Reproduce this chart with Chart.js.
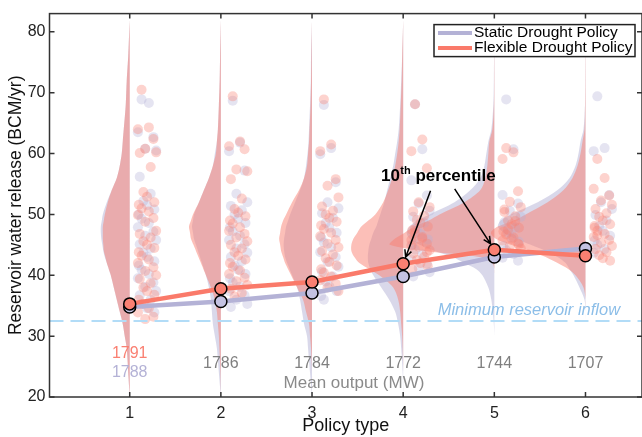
<!DOCTYPE html>
<html>
<head>
<meta charset="utf-8">
<script src="https://cdn.jsdelivr.net/npm/chart.js@4.4.1/dist/chart.umd.min.js"></script>
<style>
  html, body { margin: 0; padding: 0; background: #fff; }
</style>
</head>
<body>
<canvas id="releaseChart" width="642" height="437"></canvas>
<script>
// policy types on the x axis
const policies = [1, 2, 3, 4, 5, 6];
const yTicks = [20, 30, 40, 50, 60, 70, 80];

// 10th percentile of release per policy
const staticP10 = [34.8, 35.7, 37.1, 39.8, 43.0, 44.4];
const flexibleP10 = [35.3, 37.8, 38.9, 41.9, 44.2, 43.2];

// mean hydropower output (MW)
const meanOutputFlexible = [1791, 1786, 1784, 1772, 1744, 1707];
const meanOutputStatic = [1788, 1786, 1784, 1772, 1744, 1707];

const minimumInflow = 32.5;

// release levels at which the densities are given
const densityLevels = [20, 24, 28, 30, 32, 34, 36, 38, 40, 41, 42, 43, 44, 45, 46, 47, 48, 49, 50, 52, 54, 56, 58, 60, 62, 64, 68, 72, 76, 80, 82];

// kernel densities (relative) for each policy
const staticDensity = [
  [0, 1.5, 3, 5, 7, 10, 13, 16, 19, 21, 23, 25, 26.5, 27.5, 28.5, 29, 29, 28, 27, 23, 18, 13, 10, 8, 7, 6, 4, 3, 1.5, 0.5, 0],
  [0, 2, 4, 6, 8, 9, 10, 12, 15, 17, 19, 21, 23, 25, 27, 28, 29, 28, 27, 22, 17, 12, 8, 6, 4, 3, 2, 1.2, 0.8, 0.3, 0],
  [0, 2, 4, 5, 8, 10, 12, 15, 20, 22.5, 25, 27, 28, 28.5, 28, 27, 26, 24, 22, 17, 12, 8, 6, 4.5, 3.5, 3, 2, 1.2, 1, 0.3, 0],
  [0, 0.5, 2, 3, 5, 8, 14, 22, 30, 33, 35, 35.5, 35, 34, 32, 30, 27, 25, 23, 19, 16, 13, 10, 8, 6, 4.5, 3, 2, 1, 0.3, 0],
  [0, 0, 0, 0, 0.5, 1.5, 3, 6, 12, 18, 30, 42, 60, 75, 85, 88, 85, 78, 65, 40, 24, 14, 10, 8, 6, 3, 1, 0.5, 0.3, 0.1, 0],
  [0, 0, 0, 0, 0, 0, 1, 6, 12, 16, 20, 28, 40, 55, 70, 82, 88, 85, 75, 48, 28, 16, 10, 7, 5, 2, 0.5, 0.3, 0.2, 0.1, 0]
];
const flexibleDensity = [
  [0, 1.5, 3, 5, 7, 10, 13, 16, 19, 21, 23, 24.5, 26, 26.5, 27, 27, 27, 26, 25, 22, 18, 13, 10, 8, 7, 6, 4, 3, 1.5, 0.5, 0],
  [0, 0.5, 1.5, 2, 3, 4, 6, 10, 15, 17.5, 20, 22.5, 25, 27.5, 30, 31, 32, 30, 28, 22, 17, 12, 8, 5, 4, 3, 2, 1.2, 0.8, 0.3, 0],
  [0, 0, 1, 2, 3, 6, 9, 15, 21, 24, 27, 29, 31, 32, 33, 32, 31, 29, 26, 20, 13, 8, 5, 4, 3, 2.5, 1.5, 1, 0.6, 0.2, 0],
  [0, 0, 0.5, 1, 2, 3, 5, 10, 24, 34, 44, 49, 52, 52, 50, 46, 42, 35, 28, 20, 15, 11, 8, 6, 4.5, 3.5, 2.5, 1.5, 1, 0.3, 0],
  [0, 0, 0, 0, 0, 0, 0, 0, 0, 0, 2, 15, 70, 105, 100, 90, 80, 66, 55, 30, 14, 9, 7, 6, 5, 2, 0.5, 0.3, 0.2, 0.1, 0],
  [0, 0, 0, 0, 0, 0, 0, 2, 10, 17, 28, 40, 55, 75, 90, 95, 88, 72, 60, 38, 22, 13, 8, 5, 3, 1, 0.5, 0.3, 0.2, 0.1, 0]
];

// individual simulation runs (BCM/yr)
const staticRuns = [
  [68.9, 68.3, 63.5, 62.7, 60.8, 60.5, 56.2, 53.4, 52.2, 51.5, 50.8, 50.0, 49.3, 48.6, 47.9, 47.2, 46.5, 45.8, 45.1, 44.4, 43.7, 43.0, 42.3, 41.6, 40.9, 40.2, 39.5, 38.8, 38.1, 37.4, 36.7, 36.0, 35.3, 34.6, 33.9],
  [68.7, 61.8, 60.4, 57.2, 53.4, 52.0, 51.4, 50.7, 50.0, 49.3, 48.6, 47.9, 47.2, 46.5, 45.8, 45.1, 44.4, 43.7, 43.0, 42.3, 41.6, 40.9, 40.2, 39.5, 38.8, 38.1, 37.4, 36.7, 36.0, 35.3, 34.8],
  [68.0, 60.9, 59.9, 55.3, 52.0, 51.0, 50.2, 49.4, 48.6, 47.8, 47.0, 46.2, 45.4, 44.6, 43.8, 43.0, 42.2, 41.4, 40.6, 39.8, 39.0, 38.2, 37.4, 36.6, 36.0],
  [68.1, 60.7, 55.6, 53.1, 51.8, 50.6, 49.6, 48.6, 47.7, 46.8, 45.9, 45.0, 44.2, 43.4, 42.6, 41.9, 41.2, 40.5, 39.8],
  [68.9, 60.7, 53.2, 51.8, 50.6, 49.6, 48.7, 47.8, 47.0, 46.2, 45.5, 44.8, 44.1, 43.5, 42.9, 42.4],
  [69.4, 60.9, 60.4, 53.2, 52.0, 50.9, 49.9, 49.0, 48.1, 47.3, 46.5, 45.7, 45.0, 44.3, 43.7]
];
const flexibleRuns = [
  [70.5, 64.3, 64.0, 62.4, 60.8, 60.2, 60.1, 57.8, 53.7, 52.9, 52.0, 51.6, 51.0, 50.5, 49.9, 49.4, 48.8, 47.3, 46.8, 46.2, 45.6, 45.0, 44.5, 43.8, 43.2, 42.6, 42.0, 41.3, 40.7, 40.0, 39.4, 38.7, 38.0, 37.4, 36.8, 36.0, 35.3, 34.6, 33.9, 33.2, 32.8],
  [69.4, 62.0, 61.2, 60.7, 57.4, 57.1, 55.8, 52.6, 50.9, 50.3, 49.7, 49.0, 48.5, 47.9, 47.3, 46.8, 46.2, 45.6, 45.0, 44.4, 43.8, 43.2, 42.6, 42.0, 41.4, 40.8, 40.2, 39.6, 39.0, 38.4, 37.8, 37.1, 36.5],
  [68.9, 61.5, 60.4, 55.8, 54.7, 52.8, 51.3, 50.6, 50.0, 49.4, 48.8, 48.2, 47.6, 47.0, 46.4, 45.8, 45.2, 44.6, 44.0, 43.4, 42.8, 42.2, 41.6, 41.0, 40.4, 39.8, 39.2, 38.6, 38.0, 37.4],
  [68.1, 62.3, 60.4, 57.6, 52.0, 51.2, 50.5, 49.8, 49.1, 48.6, 48.0, 47.4, 46.9, 46.3, 45.8, 45.2, 44.7, 44.1, 43.6, 43.0, 42.5, 42.0, 41.5, 41.0, 47.6, 46.1, 44.9, 43.8],
  [60.9, 60.2, 59.1, 53.8, 52.1, 51.2, 50.4, 49.7, 49.0, 48.4, 47.8, 47.2, 46.7, 46.2, 45.7, 45.2, 44.8, 44.4, 50.8, 48.9, 47.5, 46.0, 45.0],
  [59.1, 56.0, 54.2, 53.1, 52.3, 51.6, 50.9, 50.2, 49.6, 49.0, 48.4, 47.8, 47.3, 46.8, 46.3, 45.8, 45.3, 44.8, 44.3, 43.8, 43.3, 42.8, 42.4, 48.1, 46.6]
];

const FONT = '"Liberation Sans", Arial, sans-serif';
const salmon = 'rgb(250,128,114)';
const lavender = 'rgb(180,178,214)';

// half-violin width: policy-axis units per density unit
const violinScale = 1 / 91.5;
// horizontal spread of the run dots to the right of each policy
const jitter = [0.13, 0.21, 0.09, 0.26, 0.17, 0.29, 0.11, 0.23, 0.15, 0.19, 0.27, 0.1];

function violin(p, density, color) {
  const x0 = policies[p];
  return {
    type: 'line',
    indexAxis: 'y',
    data: densityLevels.map((v, i) => ({ x: x0 - density[i] * violinScale, y: v })),
    borderColor: 'transparent',
    backgroundColor: color,
    pointRadius: 0,
    tension: 0.3,
    fill: { value: x0 }
  };
}

function runDots(runs, color) {
  const pts = [];
  runs.forEach((vals, p) => {
    vals.forEach((v, k) => pts.push({ x: policies[p] + jitter[k % jitter.length], y: v }));
  });
  return {
    type: 'scatter',
    data: pts,
    pointRadius: 5,
    pointBorderWidth: 0,
    pointBackgroundColor: color,
    showLine: false
  };
}

function p10Line(values, lineColor, markerColor) {
  return {
    type: 'line',
    data: policies.map((p, i) => ({ x: p, y: values[i] })),
    borderColor: lineColor,
    borderWidth: 4.5,
    pointRadius: 6,
    pointBackgroundColor: markerColor,
    pointBorderColor: '#000',
    pointBorderWidth: 1.5,
    fill: false,
    tension: 0
  };
}

// first dataset is drawn on top
const datasets = [
  p10Line(flexibleP10, 'rgb(250,122,106)', salmon),
  p10Line(staticP10, lavender, 'rgb(196,194,226)'),
  {
    type: 'line',
    data: [{ x: 0.12, y: minimumInflow }, { x: 6.62, y: minimumInflow }],
    borderColor: 'rgb(178,220,247)',
    borderWidth: 2,
    borderDash: [14, 7],
    pointRadius: 0,
    fill: false
  },
  runDots(flexibleRuns, 'rgba(250,128,114,0.35)'),
  runDots(staticRuns, 'rgba(180,178,214,0.35)'),
  ...policies.map((p, i) => violin(i, flexibleDensity[i], 'rgba(250,128,114,0.5)')),
  ...policies.map((p, i) => violin(i, staticDensity[i], 'rgba(180,178,214,0.5)'))
];

function arrow(ctx, x1, y1, x2, y2) {
  const a = Math.atan2(y2 - y1, x2 - x1);
  ctx.beginPath();
  ctx.moveTo(x1, y1);
  ctx.lineTo(x2, y2);
  ctx.moveTo(x2 - 8 * Math.cos(a - 0.45), y2 - 8 * Math.sin(a - 0.45));
  ctx.lineTo(x2, y2);
  ctx.lineTo(x2 - 8 * Math.cos(a + 0.45), y2 - 8 * Math.sin(a + 0.45));
  ctx.stroke();
}

const annotations = {
  id: 'annotations',
  afterDatasetsDraw(chart) {
    const { ctx, scales: { x, y } } = chart;
    ctx.save();
    ctx.textAlign = 'center';
    ctx.textBaseline = 'middle';

    // mean output under each policy
    ctx.font = '16px ' + FONT;
    policies.forEach((p, i) => {
      const px = x.getPixelForValue(p);
      if (meanOutputFlexible[i] !== meanOutputStatic[i]) {
        ctx.fillStyle = salmon;
        ctx.fillText(String(meanOutputFlexible[i]), px, y.getPixelForValue(27.1));
        ctx.fillStyle = lavender;
        ctx.fillText(String(meanOutputStatic[i]), px, y.getPixelForValue(24.0));
      } else {
        ctx.fillStyle = '#7f7f7f';
        ctx.fillText(String(meanOutputStatic[i]), px, y.getPixelForValue(25.5));
      }
    });
    ctx.font = '17px ' + FONT;
    ctx.fillStyle = '#8a8a8a';
    ctx.fillText('Mean output (MW)', x.getPixelForValue(3.46), y.getPixelForValue(22.2));

    ctx.font = 'italic 16.5px ' + FONT;
    ctx.fillStyle = 'rgb(140,190,232)';
    ctx.textAlign = 'right';
    ctx.fillText('Minimum reservoir inflow', x.getPixelForValue(6.38), y.getPixelForValue(minimumInflow + 1.8));

    // 10th percentile callout
    ctx.textAlign = 'left';
    ctx.fillStyle = '#000';
    let tx = x.getPixelForValue(3.756);
    const ty = y.getPixelForValue(56.2);
    ctx.font = 'bold 17px ' + FONT;
    ctx.fillText('10', tx, ty);
    tx += ctx.measureText('10').width + 0.5;
    ctx.font = 'bold 11px ' + FONT;
    ctx.fillText('th', tx, ty - 6);
    tx += ctx.measureText('th').width;
    ctx.font = 'bold 17px ' + FONT;
    ctx.fillText(' percentile', tx, ty);

    ctx.strokeStyle = '#000';
    ctx.lineWidth = 1.5;
    [[4.30, 53.9, 3], [4.565, 54.2, 4]].forEach(([sx, sy, i]) => {
      const x1 = x.getPixelForValue(sx), y1 = y.getPixelForValue(sy);
      const mx = x.getPixelForValue(policies[i]), my = y.getPixelForValue(flexibleP10[i]);
      const d = Math.hypot(mx - x1, my - y1);
      arrow(ctx, x1, y1, mx - (mx - x1) * 7 / d, my - (my - y1) * 7 / d);
    });
    ctx.restore();
  },
  afterDraw(chart) {
    const { ctx, chartArea: a, scales: { x, y } } = chart;
    ctx.save();
    // axes box with inward ticks
    ctx.strokeStyle = '#333';
    ctx.lineWidth = 1.5;
    ctx.strokeRect(a.left, a.top, a.right - a.left, a.bottom - a.top);
    ctx.beginPath();
    policies.forEach(p => {
      const px = x.getPixelForValue(p);
      ctx.moveTo(px, a.bottom); ctx.lineTo(px, a.bottom - 5);
      ctx.moveTo(px, a.top); ctx.lineTo(px, a.top + 5);
    });
    yTicks.forEach(v => {
      const py = y.getPixelForValue(v);
      ctx.moveTo(a.left, py); ctx.lineTo(a.left + 5, py);
      ctx.moveTo(a.right, py); ctx.lineTo(a.right - 5, py);
    });
    ctx.stroke();

    // legend
    const w = 201, h = 32;
    const lx = a.right - 7 - w, ly = a.top + 11;
    ctx.fillStyle = '#fff';
    ctx.fillRect(lx, ly, w, h);
    ctx.strokeStyle = '#222';
    ctx.lineWidth = 1.5;
    ctx.strokeRect(lx, ly, w, h);
    ctx.font = '15.5px ' + FONT;
    ctx.textAlign = 'left';
    ctx.textBaseline = 'middle';
    [['Static Drought Policy', lavender], ['Flexible Drought Policy', 'rgb(250,122,106)']].forEach(([label, c], k) => {
      const rowY = ly + 8.5 + k * 15;
      ctx.strokeStyle = c;
      ctx.lineWidth = 4;
      ctx.beginPath();
      ctx.moveTo(lx + 4, rowY);
      ctx.lineTo(lx + 38, rowY);
      ctx.stroke();
      ctx.fillStyle = '#000';
      ctx.fillText(label, lx + 40, rowY);
    });
    ctx.restore();
  }
};

new Chart(document.getElementById('releaseChart'), {
  type: 'scatter',
  data: { datasets },
  options: {
    responsive: false,
    animation: false,
    events: [],
    layout: { autoPadding: false, padding: { top: 10, right: -2, left: 0, bottom: 0 } },
    plugins: { legend: { display: false }, tooltip: { enabled: false } },
    scales: {
      x: {
        type: 'linear',
        min: 0.12,
        max: 6.62,
        grid: { display: false, drawTicks: false },
        border: { display: false },
        afterBuildTicks: s => { s.ticks = policies.map(v => ({ value: v })); },
        afterFit: s => { s.height = 40; },
        ticks: { font: { family: FONT, size: 16 }, color: '#222', padding: 7 },
        title: { display: true, text: 'Policy type', font: { family: FONT, size: 18 }, color: '#111', padding: { top: 0, bottom: 0 } }
      },
      y: {
        type: 'linear',
        min: 20,
        max: 83,
        grid: { display: false, drawTicks: false },
        border: { display: false },
        afterBuildTicks: s => { s.ticks = yTicks.map(v => ({ value: v })); },
        afterFit: s => { s.width = 49.5; },
        ticks: { font: { family: FONT, size: 16 }, color: '#222', padding: 4 },
        title: { display: true, text: 'Reservoir water release (BCM/yr)', font: { family: FONT, size: 17.5 }, color: '#111', padding: { top: 5.5, bottom: 0 } }
      }
    }
  },
  plugins: [annotations]
});
</script>
</body>
</html>
